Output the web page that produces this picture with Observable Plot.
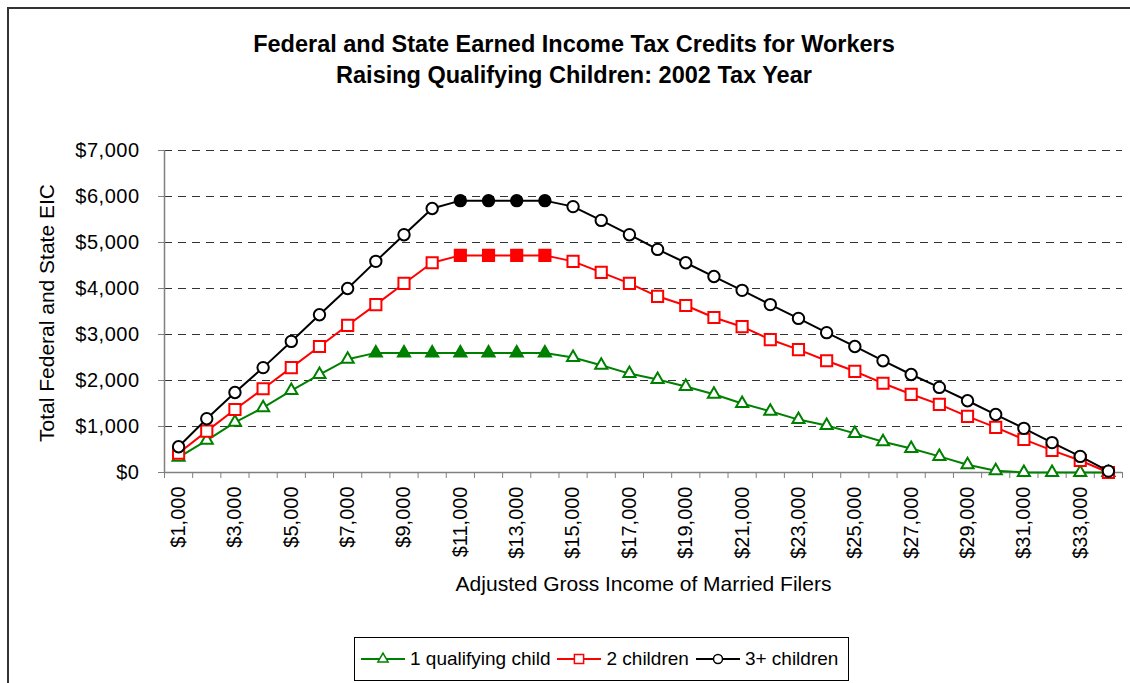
<!DOCTYPE html>
<html><head><meta charset="utf-8">
<script src="https://cdn.jsdelivr.net/npm/d3@7"></script>
<script src="https://cdn.jsdelivr.net/npm/@observablehq/plot@0.6"></script>
<style>
body{margin:0;width:1130px;height:683px;overflow:hidden;background:#fff;font-family:"Liberation Sans",Arial,sans-serif;color:#000;}
#wrap{position:relative;width:1130px;height:683px;overflow:hidden;}
#border{position:absolute;left:7px;top:7px;width:1300px;height:900px;border:2px solid #333;}
#title{position:absolute;left:18px;top:29px;width:1112px;text-align:center;font-weight:bold;font-size:23.5px;line-height:31px;}
#chart{position:absolute;left:0;top:130px;}
#ylabel{position:absolute;left:34px;top:170px;height:272px;width:26px;}
#ylabel span{display:block;writing-mode:vertical-rl;transform:rotate(180deg);height:272px;white-space:nowrap;font-size:21px;line-height:26px;}
#legend{position:absolute;left:354px;top:637px;width:495px;height:44px;border:1px solid #000;box-sizing:border-box;display:flex;align-items:center;padding-left:6px;font-size:19px;white-space:nowrap;}
#legend .item{display:flex;align-items:center;margin-right:7px;}
#legend svg{margin-right:5px;}
#chart svg g[aria-label="y-axis tick label"] text{letter-spacing:0.5px;}
</style>
</head><body>
<div id="wrap">
<div id="border"></div>
<div id="title">Federal and State Earned Income Tax Credits for Workers<br>Raising Qualifying Children: 2002 Tax Year</div>
<div id="ylabel"><span>Total Federal and State EIC</span></div>
<div id="chart"></div>
<div id="legend"></div>
</div>
<script>
// ---- data ----
const income = [1000,2000,3000,4000,5000,6000,7000,8000,9000,10000,11000,12000,13000,14000,15000,16000,17000,18000,19000,20000,21000,22000,23000,24000,25000,26000,27000,28000,29000,30000,31000,32000,33000,34000];
const oneChild = [330,700,1090,1410,1780,2130,2460,2600,2600,2600,2600,2600,2600,2600,2500,2330,2150,2020,1870,1700,1500,1330,1150,1020,850,670,520,350,170,40,0,0,0,0];
const twoChildren = [420,900,1370,1820,2280,2740,3200,3650,4110,4560,4720,4720,4720,4720,4590,4350,4110,3830,3630,3370,3170,2890,2670,2430,2200,1940,1700,1480,1220,980,720,480,260,0];
const threePlus = [560,1170,1740,2280,2850,3430,4000,4590,5170,5740,5910,5910,5910,5910,5780,5480,5170,4850,4560,4260,3960,3650,3350,3040,2740,2430,2130,1850,1560,1260,960,650,350,30];
// incomes whose markers are drawn filled (maximum-credit plateau)
const filledOne = [8000,9000,10000,11000,12000,13000,14000];
const filledTwo = [11000,12000,13000,14000];
const filledThree = [11000,12000,13000,14000];

const seriesNames = ["1 qualifying child","2 children","3+ children"];
const seriesColors = ["#008000","#ff0000","#000000"];
const seriesSymbols = ["triangle","square","circle"];

const yTicks = [0,1000,2000,3000,4000,5000,6000,7000];
const yTickLabels = ["$0","$1,000","$2,000","$3,000","$4,000","$5,000","$6,000","$7,000"];
const xLabelTicks = [1000,3000,5000,7000,9000,11000,13000,15000,17000,19000,21000,23000,25000,27000,29000,31000,33000];
const xTickLabels = ["$1,000","$3,000","$5,000","$7,000","$9,000","$11,000","$13,000","$15,000","$17,000","$19,000","$21,000","$23,000","$25,000","$27,000","$29,000","$31,000","$33,000"];
const xTitle = "Adjusted Gross Income of Married Filers";

// ---- build ----
const valuesBySeries = [oneChild, twoChildren, threePlus];
const filledBySeries = [filledOne, filledTwo, filledThree];
const rows = [];
valuesBySeries.forEach((vals, s) => {
  vals.forEach((v, i) => rows.push({series: seriesNames[s], s, income: income[i], value: v, filled: filledBySeries[s].includes(income[i])}));
});
const yLabelMap = new Map(yTicks.map((t, i) => [t, yTickLabels[i]]));
const xLabelMap = new Map(xLabelTicks.map((t, i) => [t, xTickLabels[i]]));
const step = income[1] - income[0];
const boundaries = income.map(v => v - step / 2).concat([income[income.length - 1] + step / 2]);
const rSym = {triangle: 4.5, square: 6.3, circle: 5.7};

const seriesMarks = [];
[0, 1, 2].forEach(s => {
  const d = rows.filter(r => r.s === s);
  const c = seriesColors[s];
  seriesMarks.push(Plot.line(d, {x: "income", y: "value", stroke: c, strokeWidth: 2}));
  seriesMarks.push(Plot.dot(d.filter(r => !r.filled), {x: "income", y: "value", symbol: () => seriesSymbols[s], r: rSym[seriesSymbols[s]], stroke: c, strokeWidth: 2, fill: "white"}));
  seriesMarks.push(Plot.dot(d.filter(r => r.filled), {x: "income", y: "value", symbol: () => seriesSymbols[s], r: rSym[seriesSymbols[s]], stroke: c, strokeWidth: 2, fill: c}));
});

const chart = Plot.plot({
  width: 1130, height: 490,
  marginTop: 20, marginBottom: 148, marginLeft: 164, marginRight: 8,
  x: {type: "linear", domain: [boundaries[0], boundaries[boundaries.length - 1]]},
  y: {domain: [0, 7000]},
  symbol: {type: "identity"},
  style: {fontFamily: '"Liberation Sans", Arial, sans-serif', fontSize: "20px", color: "#000", background: "transparent", overflow: "visible"},
  marks: [
    Plot.gridY(yTicks.filter(t => t > 0), {stroke: "#333", strokeOpacity: 1, strokeWidth: 1, strokeDasharray: "8,6"}),
    Plot.axisY(yTicks, {tickSize: 6, tickPadding: 19, stroke: "#808080", fill: "#000", tickFormat: t => yLabelMap.get(t), label: null}),
    Plot.axisX(boundaries, {tickSize: 6, stroke: "#808080", tickFormat: () => "", label: null}),
    Plot.axisX(xLabelTicks, {tickSize: 0, tickPadding: 14, tickRotate: -90, fill: "#000", tickFormat: t => xLabelMap.get(t), label: null}),
    Plot.ruleX([boundaries[0]], {stroke: "#808080", strokeWidth: 1.5}),
    Plot.ruleY([0], {stroke: "#808080", strokeWidth: 1.5}),
    ...seriesMarks,
    Plot.text([xTitle], {frameAnchor: "bottom", dy: 118, text: d => d, fontSize: 21, fill: "#000"})
  ]
});
document.getElementById("chart").appendChild(chart);

// ---- legend ----
const legend = d3.select("#legend");
seriesNames.forEach((name, s) => {
  const item = legend.append("div").attr("class", "item");
  const svg = item.append("svg").attr("width", 44).attr("height", 16);
  svg.append("line").attr("x1", 0).attr("x2", 44).attr("y1", 8).attr("y2", 8).attr("stroke", seriesColors[s]).attr("stroke-width", 2);
  const size = Math.PI * Math.pow(seriesSymbols[s] === "triangle" ? 3.8 : seriesSymbols[s] === "square" ? 5.2 : 4.5, 2);
  const sym = seriesSymbols[s] === "triangle" ? d3.symbolTriangle : seriesSymbols[s] === "square" ? d3.symbolSquare : d3.symbolCircle;
  svg.append("path").attr("transform", "translate(22,8)").attr("d", d3.symbol(sym, size)()).attr("fill", "white").attr("stroke", seriesColors[s]).attr("stroke-width", 1.5);
  item.append("span").text(name);
});
</script>
</body></html>
